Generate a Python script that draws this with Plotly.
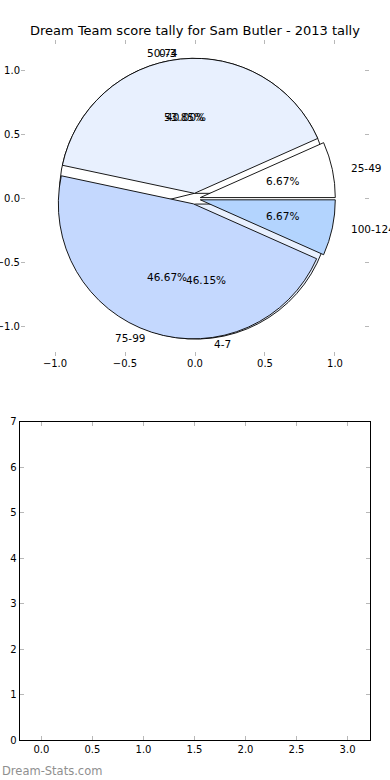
import numpy as np
import plotly.graph_objects as go

# ---------------- data ----------------
title_text = "Dream Team score tally for Sam Butler - 2013 tally"
score_labels = ["25-49", "50-74", "75-99", "100-124"]
score_values = [1, 6, 7, 1]
score_colors = ["#ffffff", "#e8f0fe", "#c4d8fe", "#b3d4fe"]
count_labels = ["0-3", "4-7"]
count_values = [7, 6]
count_colors = ["#ffffff", "#e8f0fe"]
explode = 0.04

pie_xticks = [-1.0, -0.5, 0.0, 0.5, 1.0]
pie_xticktext = ["\u22121.0", "\u22120.5", "0.0", "0.5", "1.0"]
pie_yticks = [-1.0, -0.5, 0.0, 0.5, 1.0]
pie_yticktext = ["\u22121.0", "\u22120.5", "0.0", "0.5", "1.0"]
bar_xticks = [0.0, 0.5, 1.0, 1.5, 2.0, 2.5, 3.0]
bar_xticktext = ["0.0", "0.5", "1.0", "1.5", "2.0", "2.5", "3.0"]
bar_yticks = [0, 1, 2, 3, 4, 5, 6, 7]

# ---------------- layout helpers ----------------
W, H = 390, 780
FONT = "DejaVu Sans"


def px_x(p):
    return p / W


def px_y(p):
    return 1 - p / H


def ccw_rotation(values):
    # plotly: in counterclockwise mode the first slice spans clockwise from `rotation`;
    # shift so the first slice starts at 3 o'clock going counterclockwise (matplotlib style)
    v = np.asarray(values, dtype=float)
    return 90.0 - 360.0 * v[0] / v.sum()


cx, cy = 195.0, 198.7     # pie centre (px)
R = 135.0                 # pie radius (px)
R1 = R * (1 + explode)
pie_domain = dict(x=[px_x(cx - R1), px_x(cx + R1)], y=[px_y(cy + R1), px_y(cy - R1)])

fig = go.Figure()

# second (count) pie, underneath
fig.add_trace(go.Pie(
    labels=count_labels, values=count_values, sort=False,
    direction="counterclockwise", rotation=ccw_rotation(count_values),
    pull=[explode] * len(count_values),
    marker=dict(colors=count_colors, line=dict(color="black", width=0.9)),
    textinfo="none", hoverinfo="label+percent", showlegend=False,
    domain=pie_domain,
))

# first (score) pie, exploded, on top
fig.add_trace(go.Pie(
    labels=score_labels, values=score_values, sort=False,
    direction="counterclockwise", rotation=ccw_rotation(score_values),
    pull=[explode] * len(score_values),
    marker=dict(colors=score_colors, line=dict(color="black", width=0.9)),
    textinfo="none", hoverinfo="label+percent", showlegend=False,
    domain=pie_domain,
))

# empty axes placeholders
fig.add_trace(go.Scatter(x=[], y=[], xaxis="x2", yaxis="y2", showlegend=False))
fig.add_trace(go.Scatter(x=[], y=[], xaxis="x", yaxis="y", showlegend=False))

annotations = []


def add_pie_text(labels, values, exp):
    vals = np.asarray(values, dtype=float)
    total = vals.sum()
    cum = np.cumsum(vals)
    for lab, v, c in zip(labels, vals, cum):
        theta = np.deg2rad(360.0 * (c - v / 2) / total)
        ox, oy = exp * np.cos(theta), exp * np.sin(theta)
        lx, ly = ox + 1.1 * np.cos(theta), oy + 1.1 * np.sin(theta)
        right = lx > 0
        annotations.append(dict(
            x=lx, y=ly, xref="x", yref="y", text=lab, showarrow=False,
            xanchor="left" if right else "right", yanchor="middle",
            xshift=-2 if right else 2,
            font=dict(family=FONT, size=10.5, color="black")))
        px_, py_ = ox + 0.6 * np.cos(theta), oy + 0.6 * np.sin(theta)
        annotations.append(dict(
            x=px_, y=py_, xref="x", yref="y", text="%.2f%%" % (100 * v / total),
            showarrow=False, xanchor="center", yanchor="middle",
            font=dict(family=FONT, size=10.5, color="black")))


add_pie_text(score_labels, score_values, explode)
add_pie_text(count_labels, count_values, explode)

annotations.append(dict(
    x=0, y=px_y(771), xref="paper", yref="paper", text="Dream-Stats.com",
    showarrow=False, xanchor="left", yanchor="middle",
    font=dict(family=FONT, size=11.5, color="#8f8f8f")))

tickfont = dict(family=FONT, size=10, color="black")

fig.update_layout(
    width=W, height=H, template="none",
    margin=dict(l=0, r=0, t=0, b=0),
    paper_bgcolor="white", plot_bgcolor="rgba(0,0,0,0)",
    title=dict(text=title_text, x=0.5, xanchor="center", y=px_y(30), yanchor="middle",
               font=dict(family=FONT, size=13, color="black")),
    xaxis=dict(domain=[px_x(21), px_x(369)], range=[-1.243, 1.243], anchor="y",
               tickvals=pie_xticks, ticktext=pie_xticktext, ticks="inside", ticklen=4,
               tickcolor="#b8b8b8", mirror="ticks", showline=False, showgrid=False,
               zeroline=False, tickfont=tickfont, fixedrange=True),
    yaxis=dict(domain=[px_y(356), px_y(40.3)], range=[-1.228, 1.234], anchor="x",
               tickvals=pie_yticks, ticktext=pie_yticktext, ticks="inside", ticklen=4,
               tickcolor="#b8b8b8", mirror="ticks", showline=False, showgrid=False,
               zeroline=False, tickfont=tickfont, fixedrange=True),
    xaxis2=dict(domain=[px_x(19.5), px_x(370)], range=[-0.215, 3.22], anchor="y2",
                tickvals=bar_xticks, ticktext=bar_xticktext, ticks="inside", ticklen=4,
                tickcolor="#b8b8b8", mirror="ticks", showline=True, linecolor="black",
                linewidth=1, showgrid=False, zeroline=False, tickfont=tickfont),
    yaxis2=dict(domain=[px_y(740), px_y(421.5)], range=[0, 7], anchor="x2",
                tickvals=bar_yticks, ticks="inside", ticklen=4,
                tickcolor="#b8b8b8", mirror="ticks", showline=True, linecolor="black",
                linewidth=1, showgrid=False, zeroline=False, tickfont=tickfont),
    annotations=annotations,
)

fig.write_html("out.html", config={"displayModeBar": False},
               post_script="document.body.style.margin='0px';")
